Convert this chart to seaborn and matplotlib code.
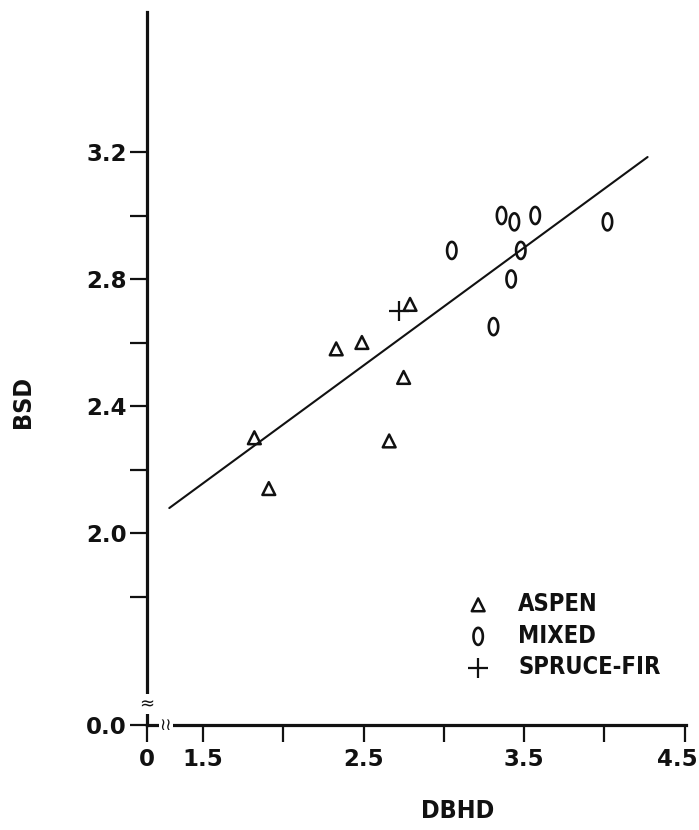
import numpy as np
import pandas as pd
import matplotlib
matplotlib.use("Agg")
import matplotlib.pyplot as plt
import matplotlib.transforms as mtransforms
from matplotlib.path import Path
from matplotlib.font_manager import FontProperties
import seaborn as sns

# ---- data ----
aspen_dbhd = [1.82, 1.91, 2.33, 2.49, 2.66, 2.75, 2.79]
aspen_bsd = [2.30, 2.14, 2.58, 2.60, 2.29, 2.49, 2.72]
mixed_dbhd = [3.05, 3.31, 3.36, 3.42, 3.44, 3.48, 3.57, 4.02]
mixed_bsd = [2.89, 2.65, 3.00, 2.80, 2.98, 2.89, 3.00, 2.98]
spruce_dbhd = [2.72]
spruce_bsd = [2.70]
fit_intercept = 1.60
fit_slope = 0.371
fit_x_range = [1.29, 4.27]

x_ticks = [1.5, 2.0, 2.5, 3.0, 3.5, 4.0, 4.5]
x_tick_labels = ["1.5", "", "2.5", "", "3.5", "", "4.5"]
y_ticks = [1.8, 2.0, 2.2, 2.4, 2.6, 2.8, 3.0, 3.2]
y_tick_labels = ["", "2.0", "", "2.4", "", "2.8", "", "3.2"]
origin_x_label = "0"
origin_y_label = "0.0"
legend_labels = ["ASPEN", "MIXED", "SPRUCE-FIR"]

sns.set_theme(style="white")
plt.rcParams["font.family"] = ["DejaVu Sans"]

W, H = 699, 830
fig = plt.figure(figsize=(W / 100, H / 100), dpi=100)
fig.patch.set_facecolor("white")

# axes geometry in pixels
x0, x1 = 147, 686
ytop, ybot = 12, 725
ax = fig.add_axes([x0 / W, (H - ybot) / H, (x1 - x0) / W, (ybot - ytop) / H])
ax.set_facecolor("white")

# data scale (px per unit), anchored on ticks 1.5@203px and 2.0@533px
xpx, ypx = 160.5, 317.5
xmin = 1.5 - (203 - x0) / xpx
xmax = 1.5 + (x1 - 203) / xpx
ymin = 2.0 - (ybot - 533) / ypx
ymax = 3.2 + (152 - ytop) / ypx
ax.set_xlim(xmin, xmax)
ax.set_ylim(ymin, ymax)

narrow = ["Liberation Sans Narrow", "DejaVu Sans"]

# markers
theta = np.linspace(0, 2 * np.pi, 60)
ell = Path(np.column_stack([0.55 * np.cos(theta), np.sin(theta)]), closed=True)

df_a = pd.DataFrame({"DBHD": aspen_dbhd, "BSD": aspen_bsd})
df_m = pd.DataFrame({"DBHD": mixed_dbhd, "BSD": mixed_bsd})
df_s = pd.DataFrame({"DBHD": spruce_dbhd, "BSD": spruce_bsd})

sns.scatterplot(data=df_a, x="DBHD", y="BSD", ax=ax, marker="^", s=85,
                facecolor="none", edgecolor="#111111", linewidth=1.8,
                label=legend_labels[0], zorder=4)
sns.scatterplot(data=df_m, x="DBHD", y="BSD", ax=ax, marker=ell, s=150,
                facecolor="none", edgecolor="#111111", linewidth=1.9,
                label=legend_labels[1], zorder=4)
sns.scatterplot(data=df_s, x="DBHD", y="BSD", ax=ax, marker="+", s=220,
                color="#111111", linewidth=1.6,
                label=legend_labels[2], zorder=4)

fit_x = np.array(fit_x_range)
df_fit = pd.DataFrame({"DBHD": fit_x, "BSD": fit_intercept + fit_slope * fit_x})
sns.lineplot(data=df_fit, x="DBHD", y="BSD", ax=ax, color="#111111",
             linewidth=1.5, zorder=3, legend=False)

# spines
for s in ["top", "right"]:
    ax.spines[s].set_visible(False)
for s in ["left", "bottom"]:
    ax.spines[s].set_color("#111111")
    ax.spines[s].set_linewidth(2.3)

tick_font = dict(fontsize=16.5, fontweight="bold", color="#111111")
ax.set_xticks([xmin] + x_ticks)
ax.set_xticklabels([origin_x_label] + x_tick_labels, **tick_font)
ax.set_yticks([ymin] + y_ticks)
ax.set_yticklabels([origin_y_label] + y_tick_labels, **tick_font)
ax.tick_params(axis="both", which="major", direction="out", length=12.5,
               width=1.6, color="#111111", pad=2, left=True, bottom=True)
ax.tick_params(axis="x", pad=4)
ax.set_xlabel("")
ax.set_ylabel("")
ax.grid(False)

# nudge the last x label left so it stays inside the figure (as in the reference)
last = ax.get_xticklabels()[-1]
last.set_transform(last.get_transform() +
                   mtransforms.ScaledTranslation(-7 / 100, 0, fig.dpi_scale_trans))

# axis break marks
ybreak = 2.0 - (704 - 533) / ypx
ax.text(xmin, ybreak, "\u2248", ha="center", va="center", fontsize=13,
        color="#111111", clip_on=False, zorder=6,
        bbox=dict(facecolor="white", edgecolor="none", pad=0.5))
xbreak = 1.5 - (203 - 166) / xpx
ax.text(xbreak, ymin, "\u2240\u2240", ha="center", va="center", fontsize=12,
        color="#111111", clip_on=False, zorder=6,
        bbox=dict(facecolor="white", edgecolor="none", pad=0.8))

# axis titles
fig.text(458 / W, 1 - 811 / H, "DBHD", ha="center", va="center",
         family=narrow, fontweight="bold", fontsize=18, color="#111111",
         fontstretch="condensed")
fig.text(23 / W, 1 - 402 / H, "BSD", ha="center", va="center", rotation=90,
         family=narrow, fontweight="bold", fontsize=18, color="#111111",
         fontstretch="condensed")

# legend
leg = ax.legend(loc="upper left", bbox_to_anchor=(464 / W, 1 - 592 / H),
                bbox_transform=fig.transFigure, frameon=False,
                prop=FontProperties(family=narrow, weight="bold", size=17,
                                    stretch="condensed"),
                handletextpad=1.1, labelspacing=0.32, handlelength=1.2,
                borderpad=0, borderaxespad=0)
for t in leg.get_texts():
    t.set_color("#111111")

fig.savefig("out.png", dpi=100, facecolor="white")
